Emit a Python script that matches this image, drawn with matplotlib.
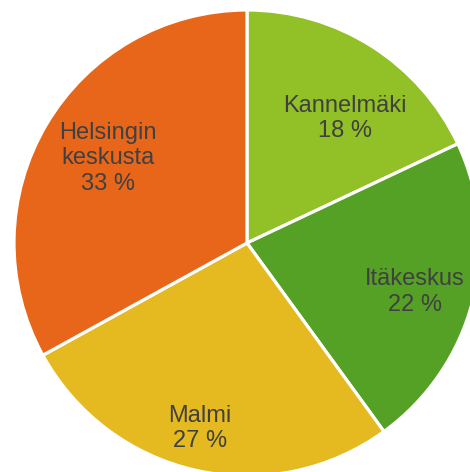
import numpy as np
import matplotlib
matplotlib.use("Agg")
import matplotlib.pyplot as plt

# data
alueet = ["Kannelmäki", "Itäkeskus", "Malmi", "Helsingin\nkeskusta"]
osuudet = [18, 22, 27, 33]
varit = ["#92C027", "#55A125", "#E5B920", "#E8661A"]

# label placement (fraction of radius, angle tweak in degrees)
LABEL_R = [0.68, 0.75, 0.82, 0.70]
LABEL_DA = [-5.9, -1.9, -1.6, -0.7]

plt.rcParams["font.family"] = ["Liberation Sans", "DejaVu Sans"]

fig = plt.figure(figsize=(4.7, 4.72), dpi=100)
ax = fig.add_axes([0, 0, 1, 1])

# pie centre at pixel (247, 243), radius 233 px
R_PX = 233.0
wedges, _ = ax.pie(osuudet, colors=varit, startangle=90, counterclock=False,
                   radius=1.0, wedgeprops=dict(edgecolor="white", linewidth=2.3))

for w, nimi, arvo, r, da in zip(wedges, alueet, osuudet, LABEL_R, LABEL_DA):
    kulma = np.deg2rad((w.theta1 + w.theta2) / 2 + da)
    ax.text(r * np.cos(kulma), r * np.sin(kulma), f"{nimi}\n{arvo} %",
            ha="center", va="center", fontsize=17, color="#404040",
            linespacing=1.2)

ax.set_xlim(-247 / R_PX, (470 - 247) / R_PX)
ax.set_ylim(-(472 - 243) / R_PX, 243 / R_PX)
ax.set_aspect("auto")
ax.axis("off")

fig.savefig("out.png", dpi=100)
